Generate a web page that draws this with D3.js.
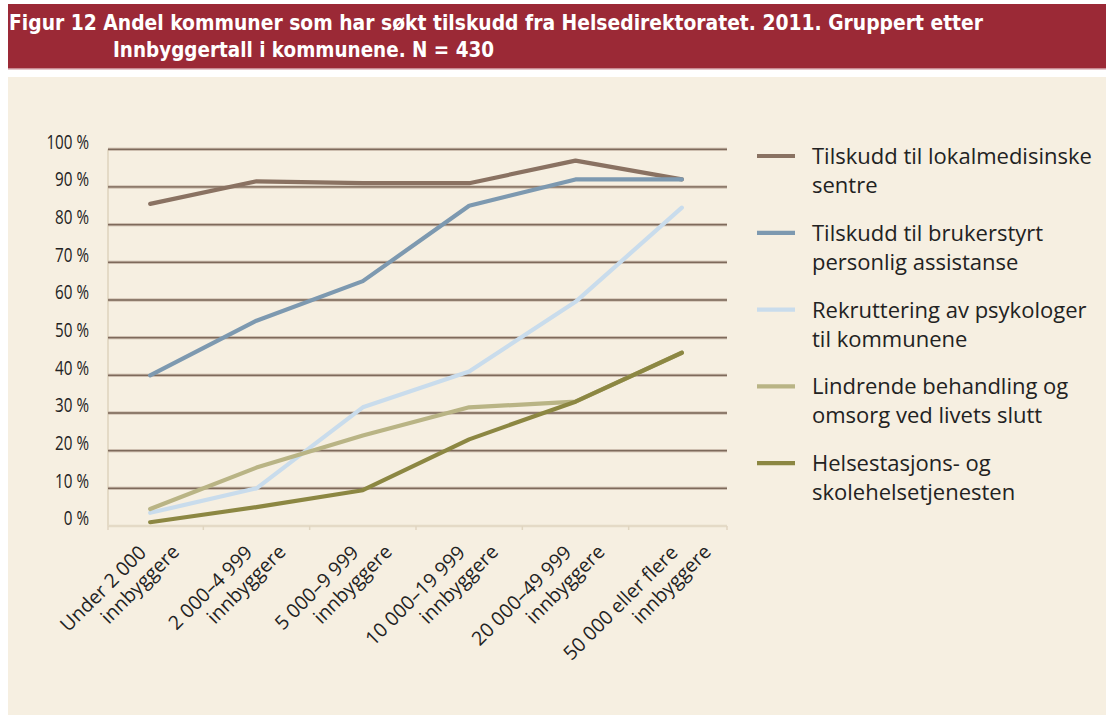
<!DOCTYPE html>
<html><head><meta charset="utf-8">
<script src="https://cdn.jsdelivr.net/npm/d3@7"></script>
<style>html,body{margin:0;padding:0;background:#fff;} svg{display:block}</style>
</head><body>
<svg id="c" width="1106" height="719"></svg>
<script>
const titleLines = [
  "Figur 12 Andel kommuner som har søkt tilskudd fra Helsedirektoratet. 2011. Gruppert etter",
  "Innbyggertall i kommunene. N = 430"
];
const categories = [
  ["Under 2 000", "innbyggere"],
  ["2 000–4 999", "innbyggere"],
  ["5 000–9 999", "innbyggere"],
  ["10 000–19 999", "innbyggere"],
  ["20 000–49 999", "innbyggere"],
  ["50 000 eller flere", "innbyggere"]
];
const seriesNames = [
  ["Tilskudd til lokalmedisinske", "sentre"],
  ["Tilskudd til brukerstyrt", "personlig assistanse"],
  ["Rekruttering av psykologer", "til kommunene"],
  ["Lindrende behandling og", "omsorg ved livets slutt"],
  ["Helsestasjons- og", "skolehelsetjenesten"]
];
const lokalmedisinske = [85.5, 91.5, 91, 91, 97, 92];
const brukerstyrt     = [40, 54.5, 65, 85, 92, 92];
const psykologer      = [3.5, 10, 31.5, 41, 59.5, 84.5];
const lindrende       = [4.5, 15.5, 24, 31.5, 33, 46];
const helsestasjon    = [1, 5, 9.5, 23, 33, 46];
const yTicks = [0, 10, 20, 30, 40, 50, 60, 70, 80, 90, 100];
const seriesColors = ["#8a7262", "#7d99b0", "#c9dcec", "#b9b485", "#8c8742"];

const seriesValues = [lokalmedisinske, brukerstyrt, psykologer, lindrende, helsestasjon];
const FONT = "'Open Sans', 'Noto Sans', sans-serif";
const TEXT = "#222222";

const svg = d3.select("#c");

// backgrounds
svg.append("rect").attr("x", 0).attr("y", 0).attr("width", 1106).attr("height", 719).attr("fill", "#ffffff");
svg.append("rect").attr("x", 8).attr("y", 4).attr("width", 1098).attr("height", 65)
  .attr("fill", "#9b2936");
svg.append("rect").attr("x", 8).attr("y", 68).attr("width", 1098).attr("height", 1.5)
  .attr("fill", "#c98a92");
svg.append("rect").attr("x", 8).attr("y", 77).attr("width", 1098).attr("height", 638)
  .attr("fill", "#f6efe1");

// title
const title = svg.append("g").attr("font-family", "'Liberation Sans Narrow', 'DejaVu Sans Condensed', 'Liberation Sans', sans-serif")
  .attr("font-weight", "bold").attr("fill", "#ffffff").attr("font-size", 22);
title.append("text").attr("x", 9).attr("y", 30).text(titleLines[0])
  .attr("textLength", 974).attr("lengthAdjust", "spacingAndGlyphs");
title.append("text").attr("x", 113).attr("y", 57).text(titleLines[1])
  .attr("textLength", 381).attr("lengthAdjust", "spacingAndGlyphs");

// scales
const x = d3.scaleBand().domain(d3.range(categories.length)).range([97, 735]).padding(0);
const y = d3.scaleLinear().domain([0, 100]).range([526, 149.3]);
const cx = i => x(i) + x.bandwidth() / 2;
const plotL = 108, plotR = 727;

// left axis line
svg.append("line").attr("x1", plotL).attr("x2", plotL).attr("y1", y(100)).attr("y2", y(0))
  .attr("stroke", "#e4dac6").attr("stroke-width", 2);

// gridlines
const grid = svg.append("g");
grid.selectAll("line.g1").data(yTicks.filter(d => d > 0)).join("line")
  .attr("x1", plotL).attr("x2", plotR).attr("y1", d => y(d)).attr("y2", d => y(d))
  .attr("stroke", "#bfae9e").attr("stroke-width", 3);
grid.selectAll("line.g2").data(yTicks.filter(d => d > 0)).join("line")
  .attr("x1", plotL).attr("x2", plotR).attr("y1", d => y(d)).attr("y2", d => y(d))
  .attr("stroke", "#7e6a5b").attr("stroke-width", 1.3);

// bottom axis
svg.append("line").attr("x1", plotL).attr("x2", plotR).attr("y1", y(0)).attr("y2", y(0))
  .attr("stroke", "#e4dac6").attr("stroke-width", 2.5);
const tickXs = [plotL].concat(d3.range(1, categories.length).map(i => x(i))).concat([plotR]);
svg.selectAll("line.tk").data(tickXs).join("line")
  .attr("x1", d => d).attr("x2", d => d).attr("y1", y(0)).attr("y2", y(0) + 4)
  .attr("stroke", "#e0d5c0").attr("stroke-width", 1.5);

// y labels (narrow, as in the reference)
svg.append("g").selectAll("text").data(yTicks).join("text")
  .attr("x", 89).attr("y", d => y(d) - 8).attr("dy", "0.36em")
  .attr("text-anchor", "end").attr("font-family", FONT).attr("font-size", 20)
  .attr("fill", TEXT).text(d => d + " %")
  .each(function () {
    const w = this.getComputedTextLength();
    d3.select(this).attr("textLength", w * 0.76).attr("lengthAdjust", "spacingAndGlyphs");
  });

// x labels
const xl = svg.append("g").attr("font-family", FONT).attr("font-size", 19.5).attr("fill", TEXT);
categories.forEach((lines, i) => {
  const g = xl.append("g").attr("transform", `translate(${cx(i)},${y(0) + 25}) rotate(-45)`);
  g.append("text").attr("x", -4).attr("y", 0).attr("text-anchor", "end").text(lines[0]);
  g.append("text").attr("x", 20).attr("y", 23).attr("text-anchor", "end").text(lines[1]);
});

// lines
const line = d3.line().x((d, i) => cx(i)).y(d => y(d));
svg.append("g").selectAll("path").data(seriesValues).join("path")
  .attr("d", d => line(d)).attr("fill", "none")
  .attr("stroke", (d, i) => seriesColors[i]).attr("stroke-width", 4.2)
  .attr("stroke-linejoin", "round").attr("stroke-linecap", "round");

// legend
const lg = svg.append("g").attr("font-family", FONT).attr("font-size", 22).attr("fill", TEXT);
seriesNames.forEach((lines, i) => {
  const yy = 156 + i * 76.8;
  lg.append("line").attr("x1", 757).attr("x2", 795).attr("y1", yy).attr("y2", yy)
    .attr("stroke", seriesColors[i]).attr("stroke-width", 4.2);
  lg.append("text").attr("x", 812).attr("y", yy).attr("dy", "0.36em").text(lines[0]);
  lg.append("text").attr("x", 812).attr("y", yy + 29).attr("dy", "0.36em").text(lines[1]);
});
</script>
</body></html>
